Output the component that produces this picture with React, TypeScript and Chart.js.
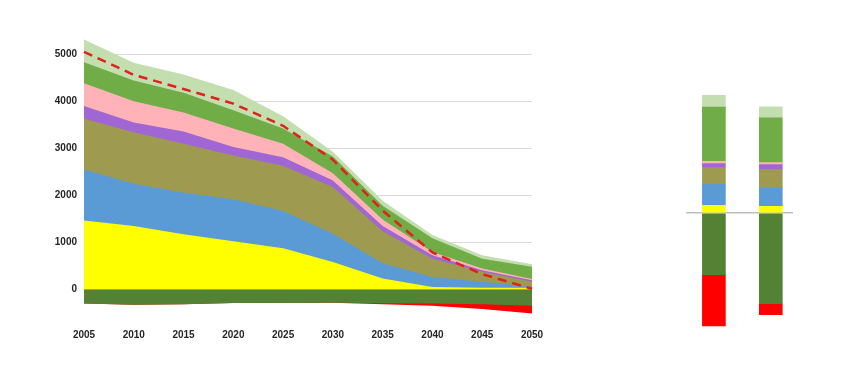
import { useEffect, useRef } from 'react';
import { Chart, registerables } from 'chart.js';

Chart.register(...registerables);

// ---------- Left chart data (stacked areas) ----------
const years = ['2005', '2010', '2015', '2020', '2025', '2030', '2035', '2040', '2045', '2050'];
const yTickValues = [0, 1000, 2000, 3000, 4000, 5000];

const yellowSeries = [1470, 1350, 1180, 1030, 880, 590, 240, 60, 40, 40];
const blueSeries = [1080, 900, 880, 890, 790, 600, 320, 210, 130, 25];
const oliveSeries = [1080, 1090, 1040, 930, 960, 990, 680, 390, 210, 105];
const purpleSeries = [270, 210, 260, 180, 180, 140, 110, 70, 35, 30];
const pinkSeries = [480, 450, 400, 390, 290, 150, 140, 70, 35, 30];
const greenSeries = [450, 440, 420, 390, 320, 360, 290, 290, 210, 260];
const lightGreenSeries = [480, 380, 390, 430, 260, 100, 110, 70, 70, 50];
const darkGreenSeries = [-290, -320, -310, -280, -280, -275, -285, -290, -310, -340];
const redSeries = [0, 0, 0, 0, 0, 0, -25, -50, -100, -165];
const netSeries = [5050, 4560, 4260, 3950, 3480, 2760, 1680, 790, 330, 20];

// ---------- Right chart data (stacked bars) ----------
const barPositions = [0, 1];
const barYellow = [77, 67];
const barBlue = [210, 187];
const barOlive = [167, 180];
const barPurple = [40, 50];
const barPink = [23, 20];
const barGreen = [543, 447];
const barLightGreen = [117, 110];
const barDarkGreen = [-617, -907];
const barRed = [-513, -110];

// ---------- Styles ----------
const C = {
  yellow: '#FFFF00',
  blue: '#5B9BD5',
  olive: '#9E9B50',
  purple: '#A066D3',
  pink: '#FFB3B8',
  green: '#70AD47',
  lightGreen: '#C3DFB0',
  darkGreen: '#548235',
  red: '#FF0000',
  net: '#E3201B',
};
const tickFont = { family: "'Liberation Sans', Arial, sans-serif", size: 10, weight: 'bold' as const };

function area(label: string, data: number[], color: string, stack: string) {
  return {
    label,
    data,
    stack,
    backgroundColor: color,
    borderColor: color,
    borderWidth: 0,
    pointRadius: 0,
    tension: 0,
    fill: 'origin',
  };
}

function bars(label: string, data: number[], color: string) {
  return {
    label,
    data: barPositions.map((x, i) => ({ x, y: data[i] })),
    backgroundColor: color,
    borderWidth: 0,
    barThickness: 23,
    stack: 'all',
  };
}

export default function App() {
  const leftRef = useRef<HTMLCanvasElement>(null);
  const rightRef = useRef<HTMLCanvasElement>(null);

  useEffect(() => {
    const left = new Chart(leftRef.current!, {
      type: 'line',
      data: {
        labels: years,
        datasets: [
          {
            label: 'Net',
            data: netSeries,
            stack: 'net',
            borderColor: C.net,
            borderWidth: 2.5,
            borderDash: [9, 6],
            pointRadius: 0,
            fill: false,
            tension: 0,
          } as any,
          area('Dark green', darkGreenSeries, C.darkGreen, 'neg'),
          area('Red', redSeries, C.red, 'neg'),
          area('Yellow', yellowSeries, C.yellow, 'pos'),
          area('Blue', blueSeries, C.blue, 'pos'),
          area('Olive', oliveSeries, C.olive, 'pos'),
          area('Purple', purpleSeries, C.purple, 'pos'),
          area('Pink', pinkSeries, C.pink, 'pos'),
          area('Green', greenSeries, C.green, 'pos'),
          area('Light green', lightGreenSeries, C.lightGreen, 'pos'),
        ],
      },
      options: {
        animation: false,
        responsive: false,
        layout: { padding: { left: 0, right: 28, top: 30.6, bottom: 32.3 } },
        plugins: { legend: { display: false }, tooltip: { enabled: false } },
        scales: {
          x: {
            type: 'category',
            offset: false,
            grid: { display: false, drawTicks: false },
            border: { display: false },
            ticks: { color: '#262626', font: tickFont, padding: 7, maxRotation: 0, autoSkip: false },
          },
          y: {
            stacked: true,
            min: -700,
            max: 5500,
            afterBuildTicks: (axis: any) => {
              axis.ticks = yTickValues.map((v) => ({ value: v }));
            },
            afterFit: (axis: any) => {
              axis.width = 84;
            },
            grid: { color: '#D9D9D9', lineWidth: 1, drawTicks: false },
            border: { display: false },
            ticks: { color: '#262626', font: tickFont, padding: 7, callback: (v: any) => String(v) },
          },
        },
      },
    } as any);

    const right = new Chart(rightRef.current!, {
      type: 'bar',
      data: {
        datasets: [
          bars('Yellow', barYellow, C.yellow),
          bars('Blue', barBlue, C.blue),
          bars('Olive', barOlive, C.olive),
          bars('Purple', barPurple, C.purple),
          bars('Pink', barPink, C.pink),
          bars('Green', barGreen, C.green),
          bars('Light green', barLightGreen, C.lightGreen),
          bars('Dark green', barDarkGreen, C.darkGreen),
          bars('Red', barRed, C.red),
        ],
      },
      options: {
        animation: false,
        responsive: false,
        layout: { padding: 0 },
        plugins: { legend: { display: false }, tooltip: { enabled: false } },
        scales: {
          x: { type: 'linear', min: -0.49, max: 1.39, offset: false, display: false, stacked: true },
          y: {
            stacked: true,
            min: -1680,
            max: 2130,
            afterBuildTicks: (axis: any) => {
              axis.ticks = [{ value: 0 }];
            },
            afterFit: (axis: any) => {
              axis.width = 0;
            },
            grid: { color: '#BFBFBF', lineWidth: 1.5, drawTicks: false },
            border: { display: false },
            ticks: { display: false },
          },
        },
      },
    } as any);

    return () => {
      left.destroy();
      right.destroy();
    };
  }, []);

  return (
    <div style={{ position: 'fixed', left: 0, top: 0, width: 850, height: 381, background: '#ffffff' }}>
      <canvas ref={leftRef} width={560} height={381} style={{ position: 'absolute', left: 0, top: 0 }} />
      <canvas ref={rightRef} width={107} height={381} style={{ position: 'absolute', left: 686, top: 0 }} />
    </div>
  );
}
